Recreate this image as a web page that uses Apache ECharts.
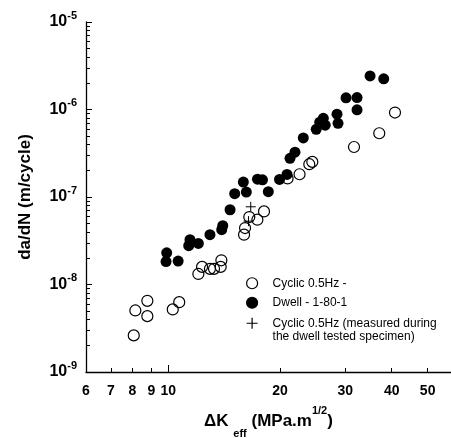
<!DOCTYPE html>
<html>
<head>
<meta charset="utf-8">
<script src="https://cdn.jsdelivr.net/npm/echarts@6/dist/echarts.min.js"></script>
<style>
html,body{margin:0;padding:0;background:#fff;}
#c{width:451px;height:438px;}
</style>
</head>
<body>
<div id="c"></div>
<script>
// ---- data ----
const cyclicK = [8.07, 8.15, 8.78, 8.78, 10.28, 10.7, 12.05, 12.33, 12.95, 13.28, 13.84, 13.9, 16.0, 16.1, 16.53, 17.38, 18.11, 20.96, 22.58, 23.99, 24.44, 31.66, 37.03, 40.83];
const cyclicRate = [2.62e-9, 5.05e-9, 6.51e-9, 4.35e-9, 5.19e-9, 6.28e-9, 1.32e-8, 1.59e-8, 1.51e-8, 1.51e-8, 1.59e-8, 1.89e-8, 3.71e-8, 4.42e-8, 5.90e-8, 5.50e-8, 6.84e-8, 1.63e-7, 1.82e-7, 2.37e-7, 2.52e-7, 3.73e-7, 5.35e-7, 9.23e-7];

const dwellK = [9.90, 9.86, 10.63, 11.44, 11.35, 12.05, 12.95, 13.93, 14.02, 14.67, 15.1, 15.93, 16.23, 17.39, 17.94, 18.6, 19.94, 20.89, 21.28, 21.95, 23.11, 25.04, 25.59, 26.48, 26.17, 28.49, 28.67, 30.13, 32.26, 32.26, 34.98, 38.07];
const dwellRate = [2.30e-8, 1.83e-8, 1.85e-8, 3.25e-8, 2.78e-8, 2.95e-8, 3.71e-8, 4.23e-8, 4.70e-8, 7.15e-8, 1.09e-7, 1.48e-7, 1.14e-7, 1.60e-7, 1.57e-7, 1.15e-7, 1.59e-7, 1.81e-7, 2.77e-7, 3.25e-7, 4.73e-7, 5.94e-7, 7.16e-7, 6.62e-7, 7.93e-7, 8.83e-7, 6.95e-7, 1.36e-6, 1.37e-6, 9.93e-7, 2.42e-6, 2.24e-6];

const crossK = [16.68, 16.45];
const crossRate = [7.73e-8, 5.3e-8];

const seriesNames = ['Cyclic 0.5Hz -', 'Dwell - 1-80-1', 'Cyclic 0.5Hz (measured during\nthe dwell tested specimen)'];

// ---- axes ----
const xMin = 6, xMax = 57.8;
const xTickLabels = [6, 7, 8, 9, 10, 20, 30, 40, 50];
const xMajorTicks = [10];
const xMinorTicks = [7, 8, 9, 20, 30, 40, 50];
const yExponents = [-9, -8, -7, -6, -5];
const yMantissas = [2, 3, 4, 5, 6, 7, 8, 9];

const yMajorTicks = yExponents.map(e => Math.pow(10, e));
const yMinorTicks = [];
yExponents.slice(0, -1).forEach(e => yMantissas.forEach(m => yMinorTicks.push(m * Math.pow(10, e))));

const FONT = '"Liberation Sans", Arial, Helvetica, sans-serif';
const zip = (a, b) => a.map((v, i) => [v, b[i]]);

const chart = echarts.init(document.getElementById('c'), null, {renderer: 'canvas'});

const baseX = {
  type: 'log', logBase: 10, min: xMin, max: xMax, gridIndex: 0, position: 'bottom',
  splitLine: {show: false}, minorTick: {show: false}
};
const baseY = {
  type: 'log', logBase: 10, min: 1e-9, max: 1e-5, gridIndex: 0, position: 'left',
  splitLine: {show: false}, minorTick: {show: false}
};
const legendBase = {
  orient: 'vertical', left: 246, padding: 0,
  itemWidth: 11, itemHeight: 11, itemGap: 6,
  selectedMode: false,
  itemStyle: {borderWidth: 1.2},
  textStyle: {color: '#000', fontSize: 12, fontFamily: FONT, lineHeight: 13.5, padding: [0, 0, 0, 10]}
};

chart.setOption({
  animation: false,
  backgroundColor: '#fff',
  textStyle: {fontFamily: FONT},
  grid: {left: 86, right: 0, top: 22, bottom: 66, containLabel: false, outerBoundsMode: 'none'},
  xAxis: [
    Object.assign({}, baseX, {
      axisLine: {show: true, lineStyle: {color: '#000', width: 1.3}},
      axisTick: {show: true, inside: true, length: 7, customValues: xMajorTicks, lineStyle: {color: '#000', width: 1}},
      axisLabel: {
        show: true, customValues: xTickLabels, margin: 12,
        color: '#000', fontSize: 14, fontWeight: 'bold', fontFamily: FONT,
        formatter: v => String(Math.round(v))
      },
      name: '{m|ΔK }{sub|eff}{m| (MPa.m}{sup|1/2}{m|)}',
      nameLocation: 'middle', nameGap: 25,
      nameTextStyle: {
        color: '#000', fontFamily: FONT,
        rich: {
          m: {fontSize: 17, fontWeight: 'bold', lineHeight: 17, color: '#000', fontFamily: FONT},
          sub: {fontSize: 11, fontWeight: 'bold', lineHeight: 11, padding: [26, 0, 0, 0], color: '#000', fontFamily: FONT},
          sup: {fontSize: 11, fontWeight: 'bold', lineHeight: 11, padding: [0, 0, 20, 0], color: '#000', fontFamily: FONT}
        }
      }
    }),
    Object.assign({}, baseX, {
      axisLine: {show: false},
      axisTick: {show: true, inside: true, length: 4, customValues: xMinorTicks, lineStyle: {color: '#000', width: 1}},
      axisLabel: {show: false}
    })
  ],
  yAxis: [
    Object.assign({}, baseY, {
      axisLine: {show: true, lineStyle: {color: '#000', width: 1.3}},
      axisTick: {show: true, inside: true, length: 6, customValues: yMajorTicks, lineStyle: {color: '#000', width: 1}},
      axisLabel: {
        show: true, customValues: yMajorTicks, margin: 9, color: '#000', fontFamily: FONT,
        formatter: v => '{b|10}{s|' + Math.round(Math.log10(v)) + '}',
        rich: {
          b: {fontSize: 16, fontWeight: 'bold', lineHeight: 16, color: '#000', fontFamily: FONT},
          s: {fontSize: 11, fontWeight: 'bold', lineHeight: 11, padding: [0, 0, 13, 0], color: '#000', fontFamily: FONT}
        }
      },
      name: 'da/dN (m/cycle)',
      nameLocation: 'middle', nameRotate: 90, nameGap: 52,
      nameTextStyle: {color: '#000', fontSize: 17, fontWeight: 'bold', fontFamily: FONT}
    }),
    Object.assign({}, baseY, {
      axisLine: {show: false},
      axisTick: {show: true, inside: true, length: 4, customValues: yMinorTicks, lineStyle: {color: '#000', width: 1}},
      axisLabel: {show: false}
    })
  ],
  legend: [
    Object.assign({}, legendBase, {top: 276.5, data: [seriesNames[0], seriesNames[1]]}),
    Object.assign({}, legendBase, {
      top: 303, data: [seriesNames[2]],
      formatter: n => '\u00a0\n' + n
    })
  ],
  series: [
    {
      name: seriesNames[0], type: 'scatter', xAxisIndex: 0, yAxisIndex: 0,
      symbol: 'circle', symbolSize: 11,
      itemStyle: {color: 'rgba(255,255,255,0)', borderColor: '#000', borderWidth: 1.2, opacity: 1},
      data: zip(cyclicK, cyclicRate), z: 2
    },
    {
      name: seriesNames[1], type: 'scatter', xAxisIndex: 0, yAxisIndex: 0,
      symbol: 'circle', symbolSize: 11,
      itemStyle: {color: '#000', borderColor: '#000', borderWidth: 0, opacity: 1},
      data: zip(dwellK, dwellRate), z: 3
    },
    {
      name: seriesNames[2], type: 'scatter', xAxisIndex: 0, yAxisIndex: 0,
      symbol: 'path://M5,0L5,10M0,5L10,5', symbolSize: 10,
      itemStyle: {color: 'rgba(0,0,0,0)', borderColor: '#000', borderWidth: 1, opacity: 1},
      data: zip(crossK, crossRate), z: 4
    }
  ]
});
</script>
</body>
</html>
